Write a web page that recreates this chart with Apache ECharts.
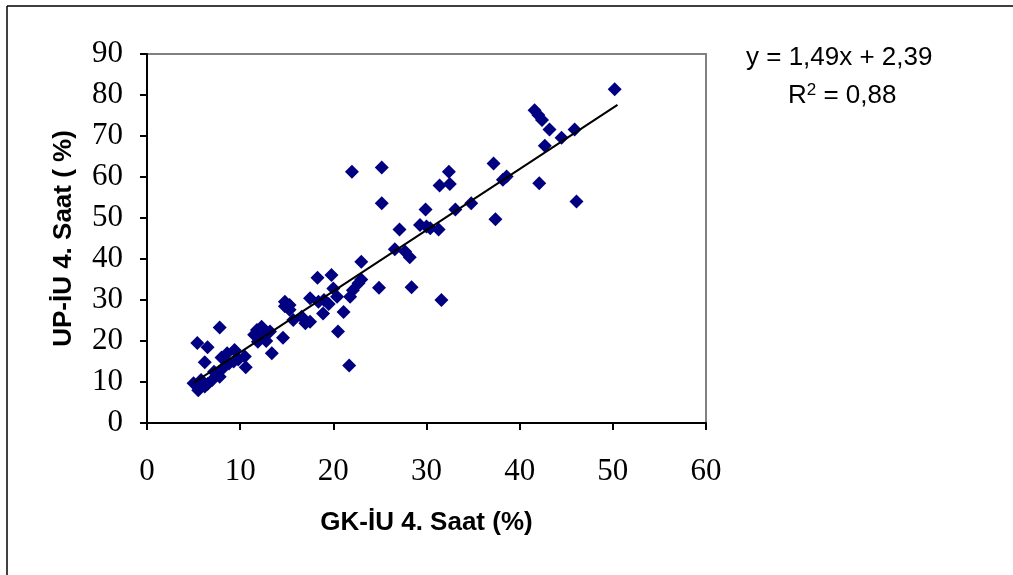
<!DOCTYPE html>
<html>
<head>
<meta charset="utf-8">
<script src="https://cdn.jsdelivr.net/npm/echarts@6/dist/echarts.min.js"></script>
<style>
html,body{margin:0;padding:0;background:#fff;}
#chart{width:1013px;height:575px;}
</style>
</head>
<body>
<div id="chart"></div>
<script>
// GK-İU 4. Saat (%) values
const xValues = [5.0,5.5,6.2,5.8,6.5,7.0,5.4,6.5,6.2,7.8,7.8,7.2,8.2,8.6,9.4,9.3,8.8,10.5,10.6,9.8,8.0,
  11.8,12.3,11.9,12.5,13.2,13.4,14.6,14.8,15.3,15.3,15.7,16.6,17.0,17.5,14.8,12.8,11.5,
  18.3,19.8,17.5,18.4,19.0,18.9,20.0,20.4,21.1,20.5,21.7,21.8,22.1,22.7,23.0,23.0,22.0,19.5,
  24.9,25.2,25.2,26.6,27.1,27.7,28.2,28.4,29.3,30.0,29.9,30.4,31.3,31.4,32.5,32.4,31.6,33.1,
  34.8,37.2,37.4,38.2,38.6,41.6,42.0,42.4,42.1,42.7,43.2,44.5,45.9,46.1,50.2];
// UP-İU 4. Saat (%) values
const yValues = [9.7,8.0,8.9,10.5,9.5,10.5,19.5,18.5,14.8,23.3,11.3,12.5,13.5,17.0,17.8,15.0,14.5,16.2,13.6,15.5,16.0,
  22.7,23.5,19.8,21.0,22.3,17.0,20.8,29.6,28.8,27.6,25.1,25.9,24.3,24.7,28.5,20.0,21.5,
  35.4,36.1,30.4,29.6,30.0,26.7,32.8,30.8,27.1,22.3,14.0,30.8,32.4,34.1,35.0,39.3,61.3,29.0,
  33.0,62.3,53.6,42.4,47.2,41.8,40.4,33.1,48.3,47.9,52.1,47.5,47.2,57.9,58.3,61.3,30.0,52.1,
  53.6,63.3,49.7,59.3,60.1,76.3,75.1,73.9,58.5,67.6,71.6,69.6,71.6,54.0,81.4];
// trend line end points
const trendX = [5.0, 50.5];
const trendY = [9.8, 77.6];
const xTicks = [0,10,20,30,40,50,60];
const yTicks = [0,10,20,30,40,50,60,70,80,90];
const equationText = 'y = 1,49x + 2,39';
const r2Value = '0,88';
const xTitle = 'GK-İU 4. Saat (%)';
const yTitle = 'UP-İU 4. Saat ( %)';

const points = xValues.map((x, i) => [x, yValues[i]]);
const trend = trendX.map((x, i) => [x, trendY[i]]);

const chart = echarts.init(document.getElementById('chart'), null, {renderer: 'canvas'});
const serif = 'Liberation Serif';
const sans = 'Liberation Sans';
chart.setOption({
  animation: false,
  backgroundColor: '#ffffff',
  grid: {left: 147, right: 307, top: 54, bottom: 152, show: true, borderColor: '#808080', borderWidth: 2, backgroundColor: 'transparent'},
  xAxis: {
    type: 'value', min: xTicks[0], max: xTicks[xTicks.length-1], interval: 10,
    name: xTitle, nameLocation: 'middle', nameGap: 87,
    nameTextStyle: {fontFamily: sans, fontWeight: 'bold', fontSize: 26, color: '#000'},
    axisLine: {show: true, onZero: false, lineStyle: {color: '#000', width: 2}},
    axisTick: {show: true, inside: false, length: 7, lineStyle: {color: '#000', width: 2}},
    axisLabel: {fontFamily: serif, fontSize: 31, color: '#000', margin: 33},
    splitLine: {show: false}
  },
  yAxis: {
    type: 'value', min: yTicks[0], max: yTicks[yTicks.length-1], interval: 10,
    name: yTitle, nameLocation: 'middle', nameGap: 70, nameRotate: 90,
    nameTextStyle: {fontFamily: sans, fontWeight: 'bold', fontSize: 26, color: '#000'},
    axisLine: {show: true, onZero: false, lineStyle: {color: '#000', width: 2}},
    axisTick: {show: true, inside: false, length: 7, lineStyle: {color: '#000', width: 2}},
    axisLabel: {fontFamily: serif, fontSize: 31, color: '#000', margin: 24},
    splitLine: {show: false}
  },
  graphic: [
    {type: 'line', shape: {x1: 7, y1: 6, x2: 7, y2: 575}, style: {stroke: '#000', lineWidth: 1.5}},
    {type: 'line', shape: {x1: 7, y1: 6, x2: 1013, y2: 6}, style: {stroke: '#000', lineWidth: 1.5}},
    {type: 'text', left: 746, top: 45, style: {text: equationText, font: '26px "Liberation Sans"', fill: '#000'}},
    {type: 'text', left: 788, top: 82, style: {
      text: '{b|R}{s|2}{b| = ' + r2Value + '}',
      rich: {b: {fontFamily: sans, fontSize: 26, color: '#000', verticalAlign: 'bottom'},
             s: {fontFamily: sans, fontSize: 17, color: '#000', verticalAlign: 'top', padding: [0,0,10,0]}}
    }}
  ],
  series: [
    {type: 'scatter', data: points, symbol: 'diamond', symbolSize: [14, 14],
     itemStyle: {color: '#000080', opacity: 1}, z: 3},
    {type: 'line', data: trend, showSymbol: false, symbol: 'none',
     lineStyle: {color: '#000', width: 2}, z: 4}
  ]
});
</script>
</body>
</html>
